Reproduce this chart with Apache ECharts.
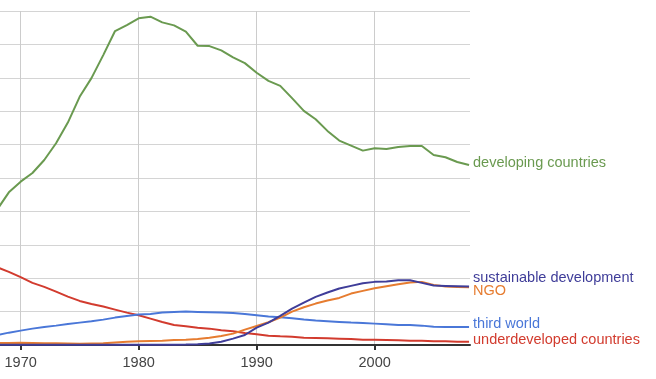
<!DOCTYPE html>
<html>
<head>
<meta charset="utf-8">
<script src="https://cdn.jsdelivr.net/npm/echarts@6/dist/echarts.min.js"></script>
<style>html,body{margin:0;padding:0;background:#fff}#c{width:656px;height:379px}</style>
</head>
<body>
<div id="c"></div>
<script>
var years = [1968,1969,1970,1971,1972,1973,1974,1975,1976,1977,1978,1979,1980,1981,1982,1983,1984,1985,1986,1987,1988,1989,1990,1991,1992,1993,1994,1995,1996,1997,1998,1999,2000,2001,2002,2003,2004,2005,2006,2007,2008];
var tickYears = [1970, 1980, 1990, 2000];
var developingCountries = [4.05,4.57,4.89,5.15,5.54,6.04,6.66,7.43,7.99,8.68,9.40,9.58,9.78,9.83,9.66,9.57,9.38,8.96,8.95,8.82,8.61,8.44,8.15,7.91,7.76,7.39,7.01,6.76,6.41,6.12,5.97,5.82,5.89,5.87,5.93,5.96,5.96,5.69,5.62,5.48,5.39];
var underdevelopedCountries = [2.33,2.19,2.03,1.86,1.74,1.60,1.45,1.32,1.23,1.15,1.06,0.97,0.89,0.79,0.69,0.60,0.56,0.52,0.49,0.44,0.41,0.36,0.32,0.28,0.26,0.25,0.22,0.21,0.20,0.19,0.18,0.16,0.16,0.15,0.14,0.13,0.13,0.11,0.11,0.10,0.10];
var thirdWorld = [0.30,0.37,0.43,0.49,0.54,0.58,0.63,0.67,0.71,0.76,0.82,0.87,0.91,0.93,0.97,0.99,1.00,0.99,0.98,0.97,0.96,0.93,0.89,0.85,0.83,0.80,0.76,0.73,0.71,0.69,0.67,0.66,0.64,0.62,0.60,0.60,0.58,0.55,0.54,0.54,0.54];
var ngo = [0.06,0.06,0.07,0.06,0.05,0.05,0.045,0.04,0.045,0.05,0.075,0.10,0.11,0.12,0.13,0.15,0.16,0.18,0.22,0.27,0.34,0.46,0.57,0.68,0.82,1.00,1.13,1.24,1.33,1.41,1.54,1.62,1.70,1.76,1.82,1.87,1.89,1.80,1.75,1.74,1.73];
var sustainableDevelopment = [0.01,0.01,0.01,0.01,0.01,0.01,0.01,0.01,0.01,0.01,0.01,0.01,0.01,0.01,0.01,0.01,0.015,0.025,0.045,0.10,0.19,0.30,0.52,0.67,0.87,1.09,1.27,1.44,1.57,1.69,1.77,1.85,1.89,1.90,1.94,1.94,1.86,1.78,1.77,1.76,1.75];

function pairs(v){ return years.map(function(y,i){ return [y, v[i]]; }); }
var FONT = 'Arial, "Liberation Sans", sans-serif';
function mk(name, data, color, dy){
  return {
    name: name, type: 'line', data: pairs(data), showSymbol: false, symbol: 'none',
    lineStyle: {color: color, width: 2}, itemStyle: {color: color},
    smooth: false, animation: false, silent: true,
    endLabel: {show: true, formatter: name, color: color, fontSize: 14.5, fontFamily: FONT, distance: 4, offset: [0, dy]}
  };
}
var chart = echarts.init(document.getElementById('c'), null, {renderer: 'canvas'});
chart.setOption({
  animation: false,
  grid: {left: 0, right: 186, top: 11, bottom: 34, containLabel: false},
  xAxis: {
    type: 'value', min: 1968.25, max: 2008.08,
    axisLine: {show: true, lineStyle: {color: '#333', width: 2}},
    axisTick: {show: true, customValues: tickYears, length: 5, lineStyle: {color: '#333', width: 2}},
    axisLabel: {show: true, customValues: tickYears, color: '#444', fontSize: 14.5, fontFamily: FONT, margin: 10, formatter: function(v){return String(v);}},
    splitLine: {show: true, lineStyle: {color: '#cccccc', width: 1}}
  },
  yAxis: {
    type: 'value', min: 0, max: 10, interval: 1,
    axisLine: {show: false}, axisTick: {show: false}, axisLabel: {show: false},
    splitLine: {show: true, lineStyle: {color: '#d4d4d4', width: 1}}
  },
  series: [
    mk('developing countries', developingCountries, '#6a9a50', -2),
    mk('underdeveloped countries', underdevelopedCountries, '#d23b2e', -2),
    mk('third world', thirdWorld, '#4a77d8', -3),
    mk('NGO', ngo, '#e67c30', 4),
    mk('sustainable development', sustainableDevelopment, '#3f3d99', -9)
  ]
});
</script>
</body>
</html>
